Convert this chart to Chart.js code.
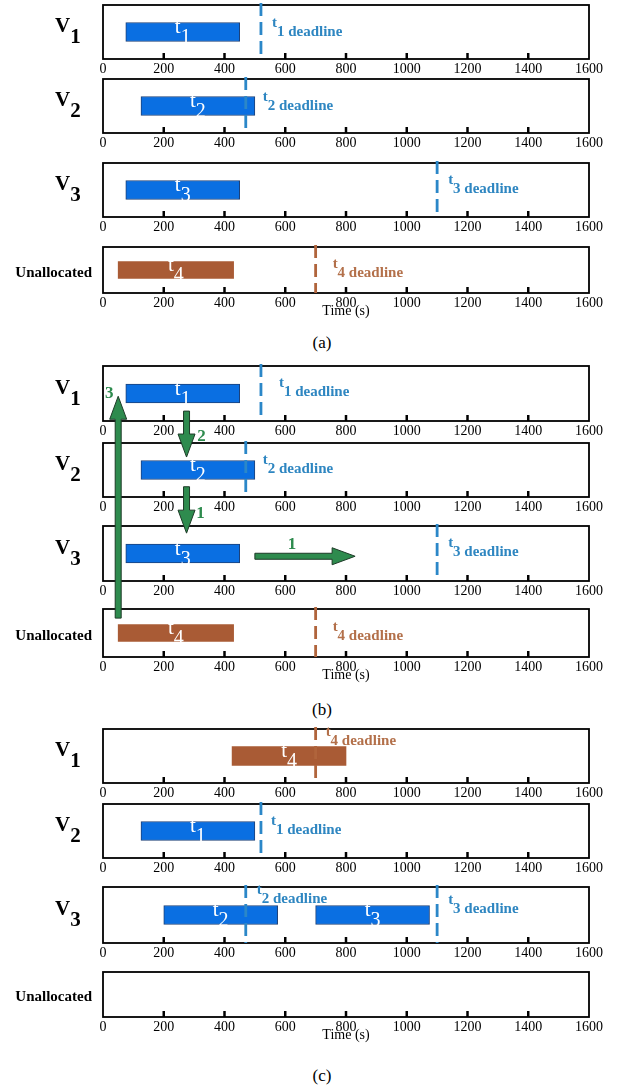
<!DOCTYPE html>
<html>
<head>
<meta charset="utf-8">
<script src="https://cdn.jsdelivr.net/npm/chart.js@4.4.0/dist/chart.umd.min.js"></script>
<style>
  html, body { margin: 0; padding: 0; background: #fff; }
  #page { position: relative; width: 618px; height: 1086px; overflow: hidden; font-family: "Liberation Serif", "Times New Roman", serif; }
  #page canvas { position: absolute; left: 0; }
  .cap { position: absolute; width: 60px; text-align: center; font-size: 17px; color: #000; }
</style>
</head>
<body>
<div id="page"></div>
<script>
// ---------- data ----------
const rowNames = ["V1", "V2", "V3", "Unallocated"];
const taskNames = ["t1", "t2", "t3", "t4"];
const deadlines = [520, 470, 1100, 700];
const xTickLabels = ["0", "200", "400", "600", "800", "1000", "1200", "1400", "1600"];

// (a) initial allocation
const startsA = [75, 125, 75, 50];
const endsA = [450, 500, 450, 430];
const hostA = [0, 1, 2, 3];
// (b) same allocation, with the moves drawn on top
const startsB = [75, 125, 75, 50];
const endsB = [450, 500, 450, 430];
const hostB = [0, 1, 2, 3];
// (c) after reallocation
const startsC = [125, 200, 700, 425];
const endsC = [500, 575, 1075, 800];
const hostC = [1, 2, 2, 0];

// moves in (b)
const arrowText = ["3", "2", "1", "1"];
const arrowFromRow = [3, 0, 1, 2];
const arrowToRow = [0, 1, 2, 2];
const arrowFromX = [50, 275, 275, 500];
const arrowToX = [50, 275, 275, 830];

// ---------- layout / style ----------
const groups = [
  { starts: startsA, ends: endsA, host: hostA },
  { starts: startsB, ends: endsB, host: hostB },
  { starts: startsC, ends: endsC, host: hostC }
];
const boxTop = [[5, 79, 163, 247], [366, 443, 526, 609], [729, 804, 887, 972]];
const boxH = [[54, 54, 54, 46], [55, 54, 55, 48], [54, 54, 56, 45]];
const capY = [343, 710, 1076];
const capText = ["(a)", "(b)", "(c)"];
// deadline label offset from the line [dx, baseline below box top]
const dlOffset = [
  [[11, 31], [17, 31], [11, 30], [17, 30]],
  [[18, 30], [17, 30], [11, 30], [17, 31]],
  [[10, 30], [11, 16], [11, 26], [10, 16]]
];
// arrow ends as fraction of the box height
const arrowFromFrac = [0.19, 0.82, 0.81, 0.55];
const arrowToFrac = [0.55, 0.26, 0.13, 0.55];
const arrowLabelOff = [[-9, -3], [15, -20], [14, -20], [-63, -12]];

const SERIF = "'Liberation Serif', 'Times New Roman', serif";
const taskFill = ["#0a6fe2", "#0a6fe2", "#0a6fe2", "#a95b35"];
const taskBorder = ["#1d4178", "#1d4178", "#1d4178", "#a95b35"];
const lineColor = ["#2b87c8", "#2b87c8", "#2b87c8", "#b0643c"];
const textColor = ["#2e86c1", "#2e86c1", "#2e86c1", "#b3704a"];
const green = "#2e8b4e";
const padTop = 6, padBottom = 2;

Chart.defaults.font.family = SERIF;
Chart.defaults.color = "#000";

const page = document.getElementById("page");

function subText(ctx, x, base, main, sub, mainFont, subFont, drop, center) {
  ctx.font = mainFont;
  const w1 = ctx.measureText(main).width;
  ctx.font = subFont;
  const w2 = ctx.measureText(sub).width;
  let sx = center ? x - (w1 + w2) / 2 : x;
  ctx.textAlign = "left";
  ctx.textBaseline = "alphabetic";
  ctx.font = mainFont;
  ctx.fillText(main, sx, base);
  ctx.font = subFont;
  ctx.fillText(sub, sx + w1, base + drop);
}

const ganttDecor = {
  id: "ganttDecor",
  afterDatasetsDraw(chart, args, opts) {
    const { ctx, chartArea: a, scales: { x } } = chart;
    const g = opts.g, r = opts.r, grp = groups[g];
    const cy = (a.top + a.bottom) / 2;
    ctx.save();

    // box
    ctx.strokeStyle = "#000";
    ctx.lineWidth = 1.8;
    ctx.strokeRect(a.left, a.top, a.right - a.left, a.bottom - a.top);
    // inward ticks
    ctx.lineWidth = 2.5;
    x.ticks.forEach((t, i) => {
      if (i === 0 || i === x.ticks.length - 1) return;
      const px = x.getPixelForValue(t.value);
      ctx.beginPath();
      ctx.moveTo(px, a.bottom);
      ctx.lineTo(px, a.bottom - 6);
      ctx.stroke();
    });

    // row label
    ctx.fillStyle = "#000";
    if (r < 3) {
      subText(ctx, 55, cy, rowNames[r][0], rowNames[r].slice(1),
        "bold 21px " + SERIF, "bold 21px " + SERIF, 11, false);
    } else {
      ctx.font = "bold 15px " + SERIF;
      ctx.textAlign = "right";
      ctx.textBaseline = "alphabetic";
      ctx.fillText(rowNames[r], 92, cy + 6.5);
    }

    // tasks on this row
    grp.host.forEach((h, i) => {
      if (h !== r) return;
      // bar label
      const bx = x.getPixelForValue((grp.starts[i] + grp.ends[i]) / 2);
      ctx.fillStyle = "#fff";
      subText(ctx, bx, cy + 1, taskNames[i][0], taskNames[i].slice(1),
        "21px " + SERIF, "20px " + SERIF, 10, true);
      // deadline
      const dx = x.getPixelForValue(deadlines[i]);
      ctx.strokeStyle = lineColor[i];
      ctx.lineWidth = 2.8;
      ctx.setLineDash([13, 6]);
      ctx.beginPath();
      ctx.moveTo(dx, a.top - 2);
      ctx.lineTo(dx, a.bottom);
      ctx.stroke();
      ctx.setLineDash([]);
      const off = dlOffset[g][i];
      ctx.fillStyle = textColor[i];
      subText(ctx, dx + off[0], a.top + off[1] - 9, "t", taskNames[i].slice(1) + " deadline",
        "bold 15px " + SERIF, "bold 15px " + SERIF, 9, false);
    });
    ctx.restore();
  }
};

const charts = [];
groups.forEach((grp, g) => {
  charts.push([]);
  rowNames.forEach((name, r) => {
    const isU = r === 3;
    const axisH = isU ? 27 : 20;
    const h = padTop + boxH[g][r] + axisH + padBottom;
    const cv = document.createElement("canvas");
    cv.width = 618;
    cv.height = h;
    cv.style.width = "618px";
    cv.style.height = h + "px";
    cv.style.top = (boxTop[g][r] - padTop) + "px";
    page.appendChild(cv);

    const datasets = [];
    grp.host.forEach((hh, i) => {
      if (hh !== r) return;
      datasets.push({
        label: taskNames[i],
        data: [[grp.starts[i], grp.ends[i]]],
        backgroundColor: taskFill[i],
        borderColor: taskBorder[i],
        borderWidth: i === 3 ? 0 : 1,
        borderSkipped: false,
        barThickness: isU ? 17 : 19,
        grouped: false
      });
    });

    charts[g].push(new Chart(cv, {
      type: "bar",
      data: { labels: [name], datasets },
      options: {
        indexAxis: "y",
        responsive: false,
        animation: false,
        events: [],
        layout: { padding: { top: padTop, left: 103, right: 29, bottom: padBottom } },
        plugins: {
          legend: { display: false },
          tooltip: { enabled: false },
          ganttDecor: { g, r }
        },
        scales: {
          x: {
            type: "linear",
            min: 0,
            max: 1600,
            position: "bottom",
            grid: { display: false },
            border: { display: false },
            ticks: {
              stepSize: 200,
              padding: -6,
              autoSkip: false,
              maxRotation: 0,
              color: "#000",
              font: { size: 14 },
              callback: (v, i) => xTickLabels[i]
            },
            title: { display: isU, text: "Time (s)", padding: 0, color: "#000", font: { size: 14 } },
            afterFit: (s) => { s.height = axisH; }
          },
          y: { type: "category", display: false }
        }
      },
      plugins: [ganttDecor]
    }));
  });

  const cap = document.createElement("div");
  cap.className = "cap";
  cap.textContent = capText[g];
  cap.style.left = (322 - 30) + "px";
  cap.style.top = (capY[g] - 10) + "px";
  page.appendChild(cap);
});

// ---------- arrows for (b) ----------
const ov = document.createElement("canvas");
ov.width = 618; ov.height = 1086;
ov.style.top = "0px"; ov.style.zIndex = 5;
page.appendChild(ov);
const octx = ov.getContext("2d");

function rowY(row, frac) {
  const c = charts[1][row];
  const a = c.chartArea;
  return parseFloat(c.canvas.style.top) + a.top + frac * (a.bottom - a.top);
}

function drawArrow(ctx, x0, y0, x1, y1) {
  const L = Math.hypot(x1 - x0, y1 - y0);
  const ux = (x1 - x0) / L, uy = (y1 - y0) / L, px = -uy, py = ux;
  const hl = 23, sw = 3, hw = 8.5;
  const bx = x1 - ux * hl, by = y1 - uy * hl;
  ctx.beginPath();
  ctx.moveTo(x0 + px * sw, y0 + py * sw);
  ctx.lineTo(bx + px * sw, by + py * sw);
  ctx.lineTo(bx + px * hw, by + py * hw);
  ctx.lineTo(x1, y1);
  ctx.lineTo(bx - px * hw, by - py * hw);
  ctx.lineTo(bx - px * sw, by - py * sw);
  ctx.lineTo(x0 - px * sw, y0 - py * sw);
  ctx.closePath();
  ctx.fillStyle = green;
  ctx.fill();
  ctx.strokeStyle = "#1e3b28";
  ctx.lineWidth = 1;
  ctx.stroke();
}

const xs = charts[1][0].scales.x;
arrowText.forEach((txt, k) => {
  const x0 = xs.getPixelForValue(arrowFromX[k]);
  const x1 = xs.getPixelForValue(arrowToX[k]);
  const y0 = rowY(arrowFromRow[k], arrowFromFrac[k]);
  const y1 = rowY(arrowToRow[k], arrowToFrac[k]);
  drawArrow(octx, x0, y0, x1, y1);
  octx.fillStyle = green;
  octx.font = "bold 17px " + SERIF;
  octx.textAlign = "center";
  octx.textBaseline = "middle";
  octx.fillText(txt, x1 + arrowLabelOff[k][0], y1 + arrowLabelOff[k][1]);
});
</script>
</body>
</html>
